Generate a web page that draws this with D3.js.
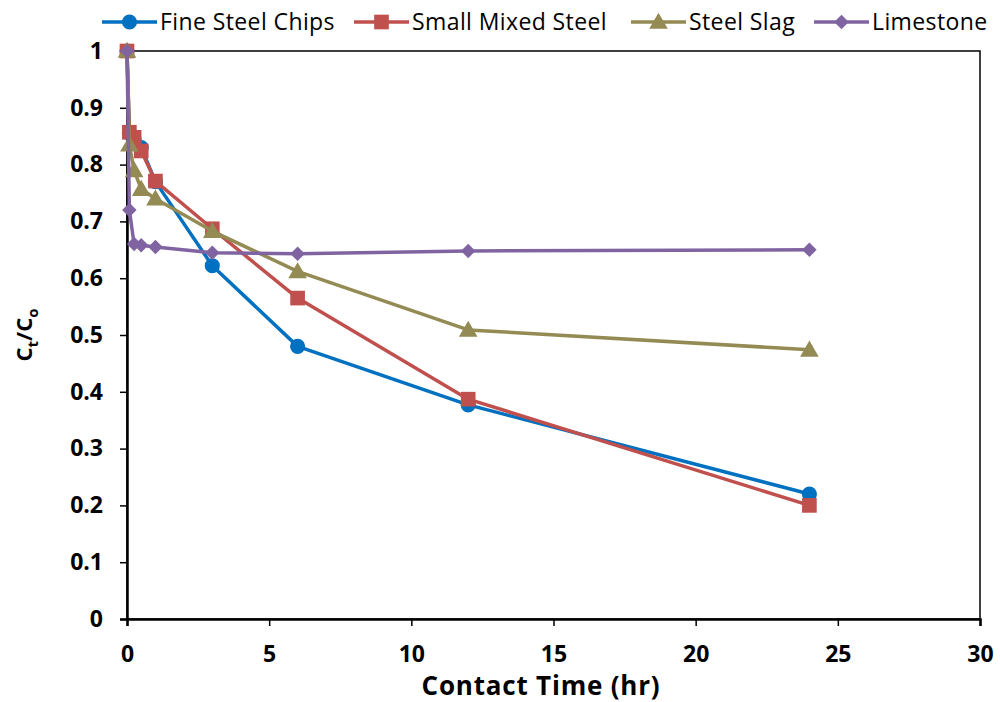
<!DOCTYPE html>
<html><head><meta charset="utf-8">
<script src="https://cdn.jsdelivr.net/npm/d3@7"></script>
<style>body{margin:0;background:#fff;} svg{display:block;}</style>
</head><body>
<svg id="c" width="1000" height="702"></svg>
<script>
const time = [0, 0.083, 0.25, 0.5, 1, 3, 6, 12, 24];
const fineSteelChips = [1.0, 0.855, 0.845, 0.83, 0.77, 0.622, 0.48, 0.377, 0.22];
const smallMixedSteel = [1.0, 0.857, 0.848, 0.824, 0.771, 0.687, 0.565, 0.387, 0.2];
const steelSlag = [1.0, 0.835, 0.79, 0.757, 0.74, 0.683, 0.612, 0.509, 0.474];
const limestone = [1.0, 0.72, 0.66, 0.658, 0.655, 0.645, 0.643, 0.648, 0.65];
const seriesNames = ["Fine Steel Chips", "Small Mixed Steel", "Steel Slag", "Limestone"];
const xTicks = [0, 5, 10, 15, 20, 25, 30];
const yTicks = [0, 0.1, 0.2, 0.3, 0.4, 0.5, 0.6, 0.7, 0.8, 0.9, 1];

const colors = ["#0070C0", "#C0504D", "#948A54", "#8064A2"];
const values = [fineSteelChips, smallMixedSteel, steelSlag, limestone];
// marker generators
const markers = [
  { type: d3.symbolCircle, size: 180, rot: 0, dy: 0 },
  { type: d3.symbolSquare, size: 215, rot: 0, dy: 0 },
  { type: d3.symbolTriangle, size: 150, rot: 0, dy: 1.5 },
  { type: d3.symbolSquare, size: 105, rot: 45, dy: 0 }
];

const font = "'Open Sans', sans-serif";
const svg = d3.select("#c");
const L = 127, R = 980, T = 51, B = 619;
const x = d3.scaleLinear().domain([0, 30]).range([L, R]);
const y = d3.scaleLinear().domain([0, 1]).range([B, T]);

// frame
svg.append("rect").attr("x", L).attr("y", T).attr("width", R - L).attr("height", B - T)
  .attr("fill", "none").attr("stroke", "#000").attr("stroke-width", 1.5);

const xAxis = svg.append("g").attr("transform", `translate(0,${B})`)
  .call(d3.axisBottom(x).tickValues(xTicks).tickSize(7).tickPadding(20).tickFormat(d3.format("d")));
const yAxis = svg.append("g").attr("transform", `translate(${L},0)`)
  .call(d3.axisLeft(y).tickValues(yTicks).tickSize(7).tickPadding(17).tickFormat(d => d === 0 || d === 1 ? String(d) : d3.format(".1f")(d)));
[xAxis, yAxis].forEach(g => {
  g.select(".domain").attr("stroke", "#000").attr("stroke-width", 2.5);
  g.selectAll(".tick line").attr("stroke", "#000").attr("stroke-width", 1.5);
  g.selectAll("text").attr("fill", "#000").style("font-family", font).style("font-size", "23px").style("font-weight", "bold");
});

// series
values.forEach((vals, i) => {
  const pts = time.map((t, j) => [t, vals[j]]);
  const m = markers[i];
  svg.append("path").datum(pts)
    .attr("fill", "none").attr("stroke", colors[i]).attr("stroke-width", 3.5)
    .attr("stroke-linejoin", "round")
    .attr("d", d3.line().x(d => x(d[0])).y(d => y(d[1])));
  svg.append("g").selectAll("path").data(pts).join("path")
    .attr("transform", d => `translate(${x(d[0])},${y(d[1]) + m.dy}) rotate(${m.rot})`)
    .attr("d", d3.symbol().type(m.type).size(m.size))
    .attr("fill", colors[i]);
});

// axis titles
svg.append("text").attr("x", 541).attr("y", 695).attr("text-anchor", "middle")
  .style("font-family", font).style("font-size", "26px").style("font-weight", "bold")
  .style("letter-spacing", "0.8px")
  .text("Contact Time (hr)");
const yt = svg.append("text").attr("transform", `translate(32,${(T + B) / 2}) rotate(-90)`)
  .attr("text-anchor", "middle")
  .style("font-family", font).style("font-size", "22px").style("font-weight", "bold");
yt.append("tspan").text("C");
yt.append("tspan").attr("dy", 6).style("font-size", "15px").text("t");
yt.append("tspan").attr("dy", -6).text("/C");
yt.append("tspan").attr("dy", 6).style("font-size", "15px").text("o");

// legend
const legX = [102, 354, 631, 814];
seriesNames.forEach((name, i) => {
  const m = markers[i];
  const g = svg.append("g").attr("transform", `translate(${legX[i]},22)`);
  g.append("line").attr("x1", 0).attr("x2", 55).attr("y1", 0).attr("y2", 0)
    .attr("stroke", colors[i]).attr("stroke-width", 3.5);
  g.append("path").attr("transform", `translate(27.5,${m.dy}) rotate(${m.rot})`)
    .attr("d", d3.symbol().type(m.type).size(m.size)).attr("fill", colors[i]);
  g.append("text").attr("x", 58).attr("y", 8)
    .style("font-family", font).style("font-size", "23px").style("letter-spacing", "0.4px")
    .attr("fill", "#000").text(name);
});
</script>
</body></html>
